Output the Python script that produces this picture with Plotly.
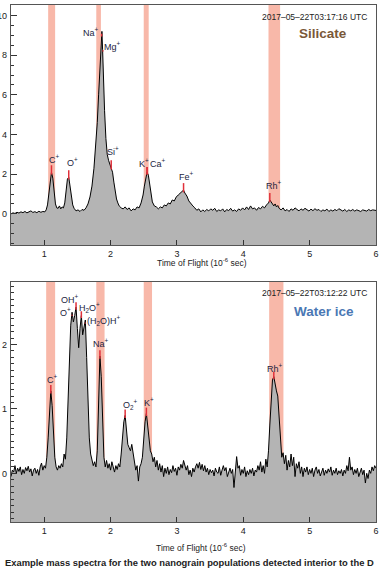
import plotly.graph_objects as go

# ---------------- data: Silicate spectrum (top) ----------------
t_si = [0.50,0.53,0.56,0.59,0.62,0.65,0.68,0.71,0.74,0.77,0.80,0.83,0.86,0.89,0.92,0.95,0.98,1.01,1.03,1.05,
        1.07,1.09,1.11,1.13,1.15,1.17,1.19,1.21,1.23,1.25,1.27,1.29,1.31,1.33,1.35,1.37,1.39,1.41,1.43,1.45,
        1.48,1.51,1.54,1.57,1.60,1.63,1.66,1.69,1.72,1.75,1.78,1.80,1.82,1.84,1.86,1.87,1.88,1.89,1.91,1.93,
        1.95,1.97,1.99,2.01,2.03,2.05,2.07,2.09,2.11,2.13,2.16,2.19,2.22,2.25,2.28,2.31,2.34,2.37,2.40,2.43,
        2.46,2.49,2.51,2.53,2.55,2.57,2.59,2.61,2.63,2.66,2.69,2.72,2.75,2.78,2.81,2.84,2.87,2.90,2.93,2.96,
        2.99,3.02,3.05,3.08,3.10,3.12,3.15,3.18,3.21,3.24,3.27,3.30,3.33,3.36,3.39,3.42,3.45,3.48,3.51,3.54,
        3.57,3.60,3.63,3.66,3.69,3.72,3.75,3.78,3.81,3.84,3.87,3.90,3.93,3.96,3.99,4.02,4.05,4.08,4.11,4.14,
        4.17,4.20,4.23,4.26,4.29,4.32,4.35,4.38,4.40,4.42,4.44,4.46,4.48,4.50,4.52,4.54,4.57,4.60,4.63,4.66,
        4.69,4.72,4.75,4.78,4.81,4.84,4.87,4.90,4.93,4.96,4.99,5.02,5.05,5.08,5.11,5.14,5.17,5.20,5.23,5.26,
        5.29,5.32,5.35,5.38,5.41,5.44,5.47,5.50,5.53,5.56,5.59,5.62,5.65,5.68,5.71,5.74,5.77,5.80,5.83,5.86,
        5.89,5.92,5.95,5.98,6.00]
v_si = [0.00,0.05,0.02,0.08,0.04,0.10,0.06,0.12,0.05,0.09,0.15,0.07,0.11,0.06,0.13,0.08,0.12,0.10,0.20,0.45,
        1.00,1.70,2.10,1.80,1.05,0.50,0.30,0.28,0.40,0.25,0.35,0.30,0.55,1.20,1.75,1.85,1.40,0.80,0.45,0.28,
        0.15,0.20,0.12,0.22,0.18,0.30,0.50,0.85,1.40,2.30,3.60,4.60,6.00,7.60,9.00,9.20,8.30,7.00,5.20,3.80,
        3.00,2.70,2.50,2.35,2.10,1.60,1.10,0.75,0.55,0.40,0.30,0.25,0.35,0.22,0.30,0.15,0.25,0.20,0.35,0.30,
        0.55,0.95,1.40,1.85,2.10,1.95,1.40,0.90,0.60,0.40,0.35,0.25,0.35,0.30,0.45,0.40,0.55,0.50,0.70,0.65,
        0.85,0.95,1.05,1.15,1.20,1.05,0.90,0.65,0.50,0.40,0.30,0.18,0.25,0.10,0.20,0.12,0.22,0.15,0.25,0.18,
        0.28,0.12,0.20,0.15,0.25,0.10,0.22,0.16,0.28,0.14,0.20,0.12,0.25,0.18,0.30,0.20,0.35,0.22,0.40,0.25,
        0.30,0.18,0.32,0.25,0.38,0.30,0.45,0.55,0.70,0.60,0.45,0.40,0.50,0.35,0.42,0.28,0.20,0.30,0.15,0.22,
        0.12,0.25,0.18,0.30,0.22,0.15,0.25,0.18,0.28,0.20,0.14,0.24,0.16,0.26,0.18,0.22,0.12,0.20,0.15,0.24,
        0.12,0.20,0.14,0.22,0.16,0.26,0.18,0.14,0.22,0.12,0.20,0.15,0.22,0.14,0.20,0.16,0.12,0.20,0.18,0.14,
        0.22,0.16,0.20,0.18,0.17]

# ---------------- data: Water ice spectrum (bottom) ----------------
t_ice = [0.50,0.52,0.54,0.56,0.58,0.60,0.62,0.64,0.66,0.68,0.70,0.72,0.74,0.76,0.78,0.80,0.82,0.84,0.86,0.88,
         0.90,0.92,0.94,0.96,0.98,1.00,1.02,1.04,1.06,1.08,1.10,1.12,1.14,1.16,1.18,1.20,1.22,1.24,1.26,1.28,
         1.30,1.32,1.34,1.36,1.38,1.40,1.42,1.44,1.46,1.48,1.50,1.52,1.54,1.56,1.58,1.60,1.62,1.64,1.66,1.68,
         1.70,1.72,1.74,1.76,1.78,1.80,1.82,1.84,1.86,1.88,1.90,1.92,1.94,1.96,1.98,2.00,2.02,2.04,2.06,2.08,
         2.10,2.12,2.14,2.16,2.18,2.20,2.22,2.24,2.26,2.28,2.30,2.32,2.34,2.36,2.38,2.40,2.42,2.44,2.46,2.48,
         2.50,2.52,2.54,2.56,2.58,2.60,2.62,2.64,2.66,2.68,2.70,2.72,2.74,2.76,2.78,2.80,2.82,2.84,2.86,2.88,
         2.90,2.92,2.94,2.96,2.98,3.00,3.02,3.04,3.06,3.08,3.10,3.12,3.14,3.16,3.18,3.20,3.22,3.24,3.26,3.28,
         3.30,3.32,3.34,3.36,3.38,3.40,3.42,3.44,3.46,3.48,3.50,3.52,3.54,3.56,3.58,3.60,3.62,3.64,3.66,3.68,
         3.70,3.72,3.74,3.76,3.78,3.80,3.82,3.84,3.86,3.88,3.90,3.92,3.94,3.96,3.98,4.00,4.02,4.04,4.06,4.08,
         4.10,4.12,4.14,4.16,4.18,4.20,4.22,4.24,4.26,4.28,4.30,4.32,4.34,4.36,4.38,4.40,4.42,4.44,4.46,4.48,
         4.50,4.52,4.54,4.56,4.58,4.60,4.62,4.64,4.66,4.68,4.70,4.72,4.74,4.76,4.78,4.80,4.82,4.84,4.86,4.88,
         4.90,4.92,4.94,4.96,4.98,5.00,5.02,5.04,5.06,5.08,5.10,5.12,5.14,5.16,5.18,5.20,5.22,5.24,5.26,5.28,
         5.30,5.32,5.34,5.36,5.38,5.40,5.42,5.44,5.46,5.48,5.50,5.52,5.54,5.56,5.58,5.60,5.62,5.64,5.66,5.68,
         5.70,5.72,5.74,5.76,5.78,5.80,5.82,5.84,5.86,5.88,5.90,5.92,5.94,5.96,5.98,6.00]
v_ice = [-0.05,0.05,0.02,0.12,0.00,0.08,0.03,0.10,-0.02,0.06,0.00,0.09,0.04,0.11,0.02,0.07,-0.04,0.05,0.08,0.00,
         0.06,-0.03,0.10,0.16,0.05,0.12,0.08,0.25,0.55,0.95,1.28,1.05,0.60,0.25,0.10,0.05,0.12,0.08,0.15,0.10,
         0.30,0.22,0.55,1.20,1.90,2.30,2.50,2.35,2.45,2.58,2.25,1.95,2.25,2.45,2.15,2.30,2.38,1.80,1.10,0.55,
         0.30,0.22,0.12,0.18,0.10,0.35,1.20,1.82,1.50,0.70,0.25,0.10,0.20,0.08,0.15,0.05,0.18,0.10,0.02,0.12,
         0.06,0.15,0.10,0.30,0.55,0.80,0.90,0.70,0.45,0.40,0.35,0.45,0.30,0.20,0.05,0.12,-0.12,0.10,0.15,0.25,
         0.55,0.80,0.93,0.70,0.45,0.35,0.30,0.18,0.25,0.10,0.20,0.05,0.15,0.02,0.12,-0.05,0.08,0.00,0.10,-0.02,
         0.06,0.01,0.12,0.03,0.08,-0.03,0.10,0.05,0.14,0.08,0.20,0.10,0.05,0.12,-0.02,0.05,-0.05,0.08,0.02,0.10,
         0.15,0.08,0.17,0.06,0.14,0.04,0.12,0.02,0.08,-0.02,0.06,0.01,0.05,-0.04,0.08,0.02,0.00,0.10,-0.03,0.05,
         0.12,0.04,0.09,-0.05,0.03,0.08,0.00,0.06,-0.22,0.05,0.26,0.08,0.12,-0.03,0.06,0.00,0.10,-0.05,0.04,-0.02,
         0.06,0.00,0.08,-0.04,0.05,0.02,0.12,0.05,0.18,0.02,0.12,0.00,0.22,0.10,0.35,0.75,1.15,1.45,1.50,1.35,
         1.28,1.20,0.85,0.45,0.25,0.32,0.15,0.28,0.05,0.20,0.10,0.30,0.12,0.25,-0.05,0.15,0.08,0.18,0.00,0.10,
         -0.05,0.08,0.02,0.10,-0.02,0.06,0.00,0.08,-0.05,0.05,0.10,0.00,0.06,-0.04,0.04,0.08,-0.03,0.05,0.00,0.07,
         0.02,0.10,-0.03,0.05,0.00,0.08,-0.02,0.04,0.00,0.06,-0.04,0.05,0.00,0.12,0.04,0.25,0.05,0.10,-0.02,0.06,
         0.00,0.08,-0.05,0.03,0.08,-0.02,0.05,-0.15,0.00,-0.08,0.05,0.00,0.10,0.04,0.12,0.08]

# ---------------- ion labels ----------------
ions_si = ["C<sup>+</sup>", "O<sup>+</sup>", "Na<sup>+</sup>", "Mg<sup>+</sup>", "Si<sup>+</sup>",
           "K<sup>+</sup>", "Ca<sup>+</sup>", "Fe<sup>+</sup>", "Rh<sup>+</sup>"]
peak_x_si = [1.11, 1.37, 1.865, 1.885, 2.01, 2.55, 2.55, 3.10, 4.40]
peak_y_si = [2.10, 1.85, 9.20, 8.30, 2.35, 2.10, 2.10, 1.20, 0.70]
lab_x_si = [1.16, 1.42, 1.71, 2.03, 2.04, 2.50, 2.71, 3.15, 4.46]
lab_y_si = [2.77, 2.62, 9.15, 8.46, 3.15, 2.57, 2.57, 1.89, 1.47]

ions_ice = ["C<sup>+</sup>", "O<sup>+</sup>", "OH<sup>+</sup>", "H<sub>2</sub>O<sup>+</sup>",
            "(H<sub>2</sub>O)H<sup>+</sup>", "Na<sup>+</sup>", "O<sub>2</sub><sup>+</sup>", "K<sup>+</sup>", "Rh<sup>+</sup>"]
peak_x_ice = [1.10, 1.42, 1.48, 1.56, 1.62, 1.84, 2.22, 2.54, 4.46]
peak_y_ice = [1.28, 2.50, 2.58, 2.45, 2.38, 1.82, 0.90, 0.93, 1.50]
lab_x_ice = [1.13, 1.32, 1.39, 1.68, 1.90, 1.86, 2.30, 2.58, 4.48]
lab_y_ice = [1.46, 2.50, 2.71, 2.57, 2.38, 2.02, 1.07, 1.11, 1.63]

# ---------------- highlighted mass windows ----------------
band_lo_si = [1.06, 1.785, 2.50, 4.38]
band_hi_si = [1.165, 1.855, 2.575, 4.555]
band_lo_ice = [1.03, 1.785, 2.50, 4.39]
band_hi_ice = [1.165, 1.91, 2.625, 4.605]

x_ticks = [1, 2, 3, 4, 5, 6]
range_x = [0.5, 6.0]
range_y_si = [-1.57, 10.53]
range_y_ice = [-0.755, 2.97]

FILL = "#B4B4B4"
RED = "#E0303A"
BAND = "rgba(247,176,160,0.9)"
FONT = "Liberation Sans, Arial, sans-serif"
TITLE_FONT = "Liberation Sans Narrow, Liberation Sans, Arial, sans-serif"

fig = go.Figure()


def add_panel(t, v, ybot, xa, ya):
    fig.add_trace(go.Scatter(x=t + [t[-1], t[0]], y=v + [ybot, ybot], fill="toself",
                             fillcolor=FILL, line=dict(width=0), mode="lines",
                             xaxis=xa, yaxis=ya, hoverinfo="skip", showlegend=False))
    fig.add_trace(go.Scatter(x=t, y=v, mode="lines", line=dict(color="black", width=1),
                             xaxis=xa, yaxis=ya, showlegend=False))


def add_marks(px, py, ly, lo, hi, xa, ya):
    xs, ys = [], []
    for x, y, l in zip(px, py, ly):
        xs += [x, x, None]
        ys += [y - lo, min(y + hi, l - hi * 0.6), None]
    fig.add_trace(go.Scatter(x=xs, y=ys, mode="lines", line=dict(color=RED, width=1.5),
                             xaxis=xa, yaxis=ya, showlegend=False, hoverinfo="skip"))


add_panel(t_si, v_si, range_y_si[0], "x", "y")
add_marks(peak_x_si, peak_y_si, lab_y_si, 0.12, 0.35, "x", "y")
add_panel(t_ice, v_ice, range_y_ice[0], "x2", "y2")
add_marks(peak_x_ice, peak_y_ice, lab_y_ice, 0.04, 0.09, "x2", "y2")

shapes = []
for lo, hi in zip(band_lo_si, band_hi_si):
    shapes.append(dict(type="rect", xref="x", yref="y domain", x0=lo, x1=hi, y0=0, y1=1,
                       fillcolor=BAND, line=dict(width=0), layer="below"))
for lo, hi in zip(band_lo_ice, band_hi_ice):
    shapes.append(dict(type="rect", xref="x2", yref="y2 domain", x0=lo, x1=hi, y0=0, y1=1,
                       fillcolor=BAND, line=dict(width=0), layer="below"))

ann = []
for txt, x, y in zip(ions_si, lab_x_si, lab_y_si):
    ann.append(dict(text=txt, x=x, y=y, xref="x", yref="y", showarrow=False,
                    xanchor="center", yanchor="middle",
                    font=dict(size=9, color="#1c2540", family=FONT)))
for txt, x, y in zip(ions_ice, lab_x_ice, lab_y_ice):
    ann.append(dict(text=txt, x=x, y=y, xref="x2", yref="y2", showarrow=False,
                    xanchor="center", yanchor="middle",
                    font=dict(size=9, color="#1c2540", family=FONT)))

ann += [
    dict(text="2017\u201305\u201322T03:17:16 UTC", x=0.981, y=0.976, xref="paper", yref="paper",
         xanchor="right", yanchor="middle", showarrow=False, font=dict(size=8.5, color="#222", family=FONT)),
    dict(text="<b>Silicate</b>", x=0.855, y=0.944, xref="paper", yref="paper", showarrow=False,
         xanchor="center", yanchor="middle",
         font=dict(size=13.5, color="#7A5838", family=TITLE_FONT)),
    dict(text="2017\u201305\u201322T03:12:22 UTC", x=0.981, y=0.4435, xref="paper", yref="paper",
         xanchor="right", yanchor="middle", showarrow=False, font=dict(size=8.5, color="#222", family=FONT)),
    dict(text="<b>Water ice</b>", x=0.858, y=0.408, xref="paper", yref="paper", showarrow=False,
         xanchor="center", yanchor="middle",
         font=dict(size=13.5, color="#4A78B4", family=TITLE_FONT)),
    dict(text="Time of Flight (10<sup>-6</sup> sec)", x=0.523, y=0.501, xref="paper", yref="paper",
         xanchor="center", yanchor="middle",
         showarrow=False, font=dict(size=8.5, color="#222", family=FONT)),
    dict(text="Time of Flight (10<sup>-6</sup> sec)", x=0.52, y=-0.0484, xref="paper", yref="paper",
         xanchor="center", yanchor="middle",
         showarrow=False, font=dict(size=8.5, color="#222", family=FONT)),
    dict(text="<b>Example mass spectra for the two nanograin populations detected interior to the D</b>",
         x=-0.0219, y=-0.0774, xref="paper", yref="paper", xanchor="left", yanchor="middle",
         showarrow=False, font=dict(size=9.4, color="#222", family=FONT)),
]

xa_common = dict(range=range_x, tickvals=x_ticks, ticks="inside", ticklen=5, tickcolor="#333",
                 showline=True, linecolor="#555", linewidth=1.2, mirror=True, showgrid=False,
                 zeroline=False, tickfont=dict(size=9, color="#222", family=FONT), automargin=False,
                 ticklabelstandoff=0)
ya_common = dict(ticks="inside", ticklen=6, tickcolor="#333", showline=True, linecolor="#555",
                 linewidth=1.2, mirror=True, showgrid=False, zeroline=False,
                 tickfont=dict(size=9, color="#222", family=FONT), automargin=False, ticklabelstandoff=1)

fig.update_layout(
    width=383, height=568,
    margin=dict(l=11, r=7, t=5, b=46),
    paper_bgcolor="white", plot_bgcolor="white",
    showlegend=False,
    shapes=shapes,
    annotations=ann,
    xaxis=dict(domain=[0, 1], anchor="y", **xa_common),
    yaxis=dict(domain=[0.5358, 1], anchor="x", range=range_y_si, dtick=2, tick0=0,
               minor=dict(dtick=0.5, ticks="inside", ticklen=3, tickcolor="#333"), **ya_common),
    xaxis2=dict(domain=[0, 1], anchor="y2", **xa_common),
    yaxis2=dict(domain=[0, 0.4642], anchor="x2", range=range_y_ice, dtick=1, tick0=0,
                minor=dict(dtick=0.1, ticks="inside", ticklen=3, tickcolor="#333"), **ya_common),
)

fig.write_html("out.html",
               config={"displayModeBar": False},
               post_script="document.body.style.margin='0';document.body.style.padding='0';"
                           "document.body.style.overflow='hidden';")
